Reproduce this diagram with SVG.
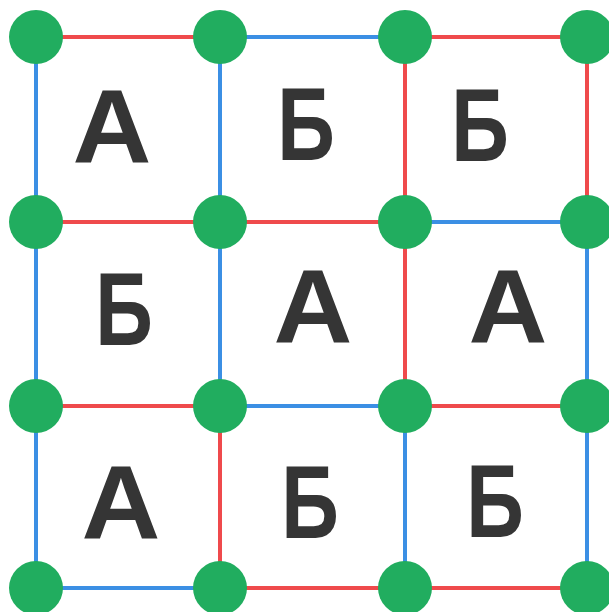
<svg xmlns="http://www.w3.org/2000/svg" width="609" height="612" viewBox="0 0 609 612">
<style>
.r{stroke:#ef4a4c;stroke-width:4}
.b{stroke:#3b8fe4;stroke-width:4}
.n{fill:#21ad5f}
.t{font-family:"Liberation Sans",Arial,sans-serif;font-weight:bold;font-size:104px;fill:#353535;text-anchor:middle}
</style>
<rect width="609" height="612" fill="#fff"/>
<g id="connectors">
<line class="r" x1="36" y1="37" x2="220" y2="37"/>
<line class="b" x1="220" y1="37" x2="405" y2="37"/>
<line class="r" x1="405" y1="37" x2="587" y2="37"/>
<line class="r" x1="36" y1="222" x2="220" y2="222"/>
<line class="r" x1="220" y1="222" x2="405" y2="222"/>
<line class="b" x1="405" y1="222" x2="587" y2="222"/>
<line class="r" x1="36" y1="406" x2="220" y2="406"/>
<line class="b" x1="220" y1="406" x2="405" y2="406"/>
<line class="r" x1="405" y1="406" x2="587" y2="406"/>
<line class="b" x1="36" y1="588" x2="220" y2="588"/>
<line class="r" x1="220" y1="588" x2="405" y2="588"/>
<line class="r" x1="405" y1="588" x2="587" y2="588"/>
<line class="b" x1="36" y1="37" x2="36" y2="588"/>
<line class="b" x1="220" y1="37" x2="220" y2="406"/>
<line class="r" x1="220" y1="406" x2="220" y2="588"/>
<line class="r" x1="405" y1="37" x2="405" y2="406"/>
<line class="b" x1="405" y1="406" x2="405" y2="588"/>
<line class="r" x1="587" y1="37" x2="587" y2="222"/>
<line class="b" x1="587" y1="222" x2="587" y2="588"/>
</g>
<g id="labels">
<text class="t" transform="translate(112,162) scale(1.05,1)">А</text>
<text class="t" transform="translate(306,160) scale(0.77,1)">Б</text>
<text class="t" transform="translate(480,161) scale(0.77,1)">Б</text>
<text class="t" transform="translate(124,345) scale(0.77,1)">Б</text>
<text class="t" transform="translate(313,342) scale(1.05,1)">А</text>
<text class="t" transform="translate(508,342) scale(1.05,1)">А</text>
<text class="t" transform="translate(121,538) scale(1.05,1)">А</text>
<text class="t" transform="translate(310,538) scale(0.77,1)">Б</text>
<text class="t" transform="translate(495,537) scale(0.77,1)">Б</text>
</g>
<g id="n00"><circle class="n" cx="36" cy="37" r="27"/></g>
<g id="n01"><circle class="n" cx="220" cy="37" r="27"/></g>
<g id="n02"><circle class="n" cx="405" cy="37" r="27"/></g>
<g id="n03"><circle class="n" cx="587" cy="37" r="27"/></g>
<g id="n10"><circle class="n" cx="36" cy="222" r="27"/></g>
<g id="n11"><circle class="n" cx="220" cy="222" r="27"/></g>
<g id="n12"><circle class="n" cx="405" cy="222" r="27"/></g>
<g id="n13"><circle class="n" cx="587" cy="222" r="27"/></g>
<g id="n20"><circle class="n" cx="36" cy="406" r="27"/></g>
<g id="n21"><circle class="n" cx="220" cy="406" r="27"/></g>
<g id="n22"><circle class="n" cx="405" cy="406" r="27"/></g>
<g id="n23"><circle class="n" cx="587" cy="406" r="27"/></g>
<g id="n30"><circle class="n" cx="36" cy="588" r="27"/></g>
<g id="n31"><circle class="n" cx="220" cy="588" r="27"/></g>
<g id="n32"><circle class="n" cx="405" cy="588" r="27"/></g>
<g id="n33"><circle class="n" cx="587" cy="588" r="27"/></g>
</svg>
